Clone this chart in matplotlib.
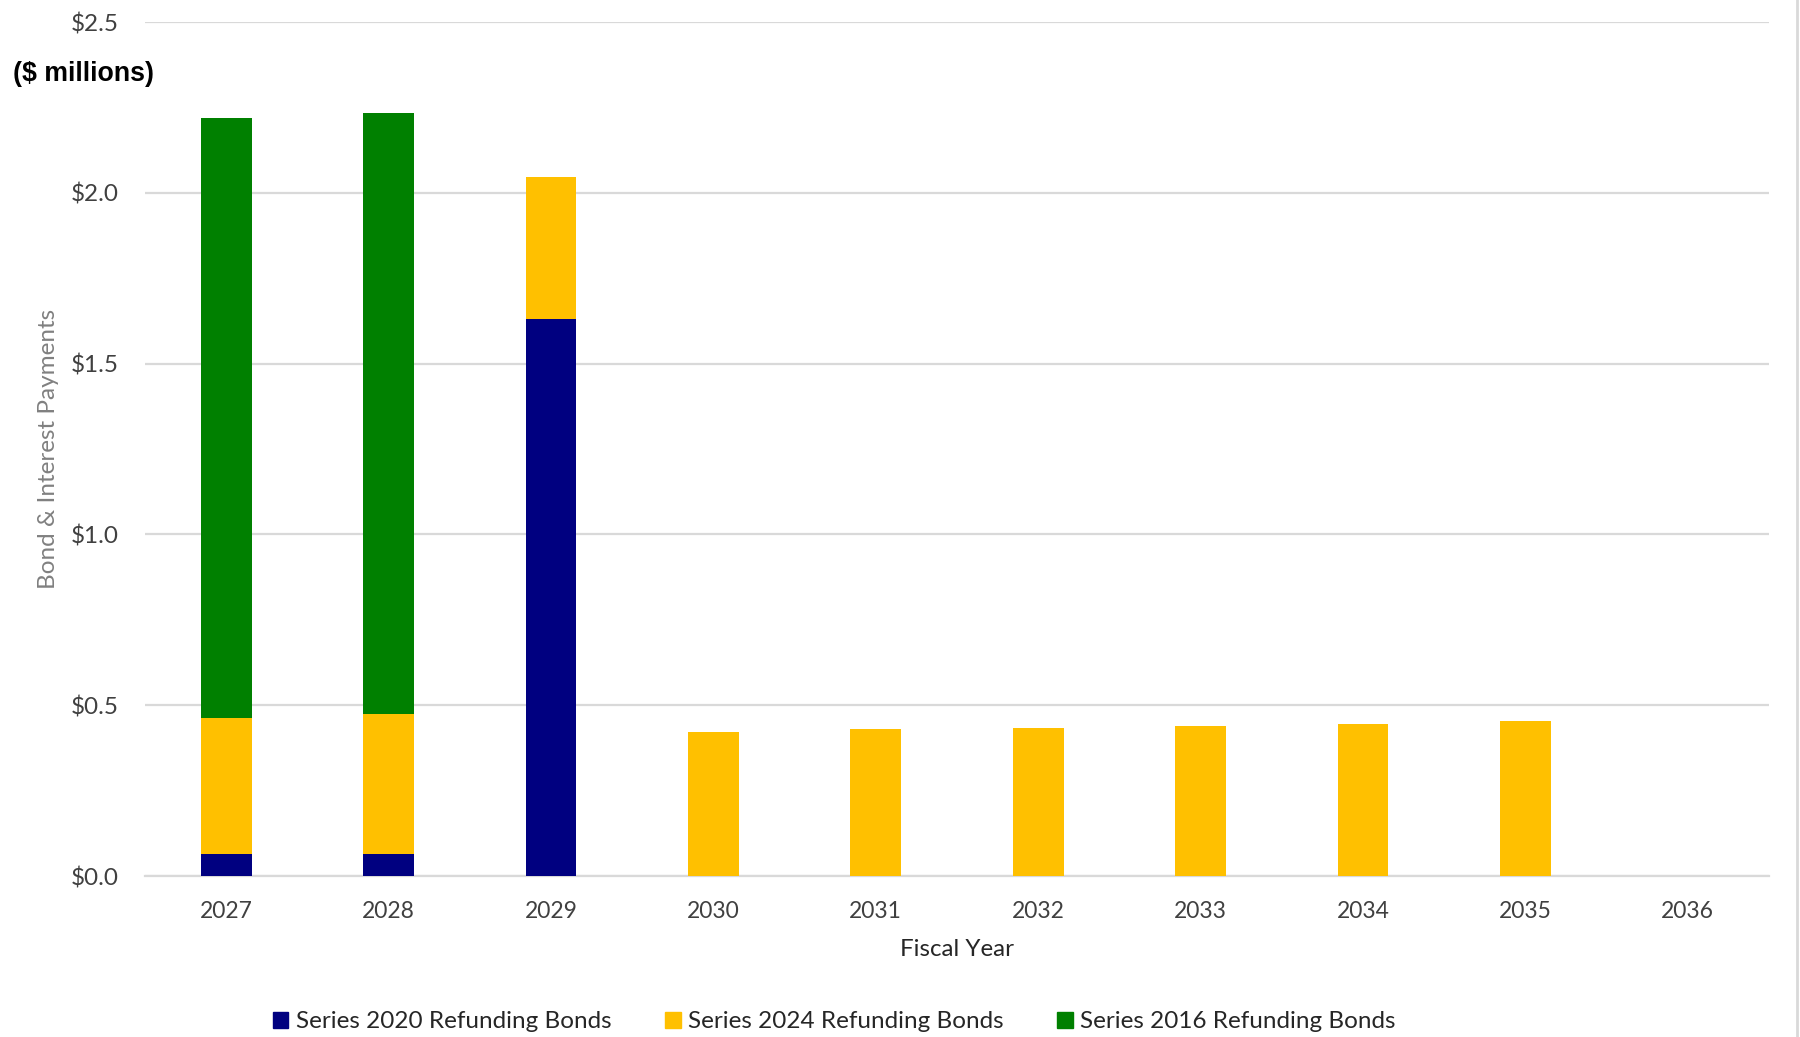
import matplotlib.pyplot as plt
from matplotlib.patches import Patch
from matplotlib.lines import Line2D
import numpy as np

# Bond & interest payments by fiscal year ($ millions)
years = ['2027', '2028', '2029', '2030', '2031', '2032', '2033', '2034', '2035', '2036']
series_2020 = [0.065, 0.065, 1.630, 0, 0, 0, 0, 0, 0, 0]
series_2024 = [0.397, 0.409, 0.416, 0.421, 0.429, 0.432, 0.438, 0.444, 0.453, 0]
series_2016 = [1.757, 1.760, 0, 0, 0, 0, 0, 0, 0, 0]

labels = ['Series 2020 Refunding Bonds', 'Series 2024 Refunding Bonds', 'Series 2016 Refunding Bonds']
colors = ['#000080', '#FFC000', '#008000']

plt.rcParams['font.family'] = ['Lato', 'DejaVu Sans']

fig = plt.figure(figsize=(18, 10.37), dpi=100)
ax = fig.add_axes([145 / 1800, 1 - 876 / 1037, (1769 - 145) / 1800, (876 - 22) / 1037])

x = np.arange(len(years))
w = 0.314
b1 = np.array(series_2020)
b2 = b1 + np.array(series_2024)
ax.bar(x, series_2020, w, color=colors[0], zorder=3)
ax.bar(x, series_2024, w, bottom=b1, color=colors[1], zorder=3)
ax.bar(x, series_2016, w, bottom=b2, color=colors[2], zorder=3)

ax.set_xlim(-0.5, 9.5)
ax.set_ylim(0, 2.5)
ax.set_yticks([0, 0.5, 1.0, 1.5, 2.0, 2.5])
ax.set_yticklabels(['$0.0', '$0.5', '$1.0', '$1.5', '$2.0', '$2.5'])
ax.set_xticks(x)
ax.set_xticklabels(years)
ax.tick_params(length=0, labelcolor='#404040')
ax.tick_params(axis='x', pad=18, labelsize=16.5)
ax.tick_params(axis='y', pad=19, labelsize=17.5)

ax.grid(axis='y', color='#D9D9D9', linewidth=1.6, zorder=0)
for s in ['top', 'right', 'left']:
    ax.spines[s].set_visible(False)
ax.spines['bottom'].set_color('#D9D9D9')
ax.spines['bottom'].set_linewidth(1.6)

ax.set_xlabel('Fiscal Year', fontsize=17.4, color='#262626', labelpad=12)
ax.set_ylabel('Bond & Interest Payments', fontsize=17.5, color='#808080')
ax.yaxis.set_label_coords(-0.053, 0.5)

fig.text(13 / 1800, 1 - 74 / 1037, '($ millions)', fontsize=19.3, fontweight='bold',
         family='Liberation Sans', va='center', ha='left')

handles = [Patch(color=c) for c in colors]
fig.legend(handles, labels, loc='center', bbox_to_anchor=(834 / 1800, 1 - 1022 / 1037),
           ncol=3, frameon=False, fontsize=17.5, handlelength=0.65, handleheight=0.65,
           handletextpad=0.3, columnspacing=2.2, labelcolor='#262626')

fig.add_artist(Line2D([0.9985, 0.9985], [0, 1], transform=fig.transFigure,
                      color='#D9D9D9', linewidth=2))

plt.savefig('out.png', dpi=100)
